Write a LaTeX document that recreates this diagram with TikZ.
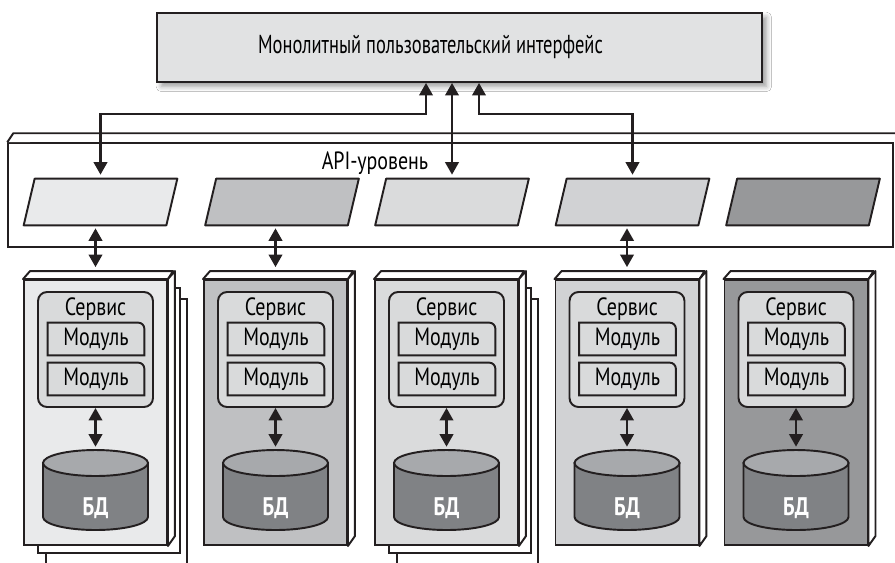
\documentclass[tikz,border=0pt]{standalone}
\usepackage{fontspec}
\setmainfont{PT Sans}[FakeStretch=0.8]
\newfontfamily\uifont{PT Sans}[FakeStretch=0.71]
\usepackage{tikz}
\usetikzlibrary{arrows.meta,positioning,shadows.blur}
\definecolor{ink}     {HTML}{231F20}
\definecolor{uigray}  {HTML}{E1E2E3}
\definecolor{svcgray} {HTML}{D9DADB}
\definecolor{dbtop}   {HTML}{A7A9AC}
\definecolor{dbbody}  {HTML}{808285}
\definecolor{greyA}   {HTML}{E9EAEB}
\definecolor{greyB}   {HTML}{BFC0C2}
\definecolor{greyC}   {HTML}{DADBDC}
\definecolor{greyD}   {HTML}{D1D2D4}
\definecolor{greyE}   {HTML}{97989A}
\tikzset{
  uibox/.style   ={draw=ink, fill=uigray, line width=1.1pt,
                   minimum width=12.1cm, minimum height=1.38cm,
                   blur shadow={shadow xshift=2.5pt, shadow yshift=-2.5pt,
                                shadow blur radius=3pt, shadow opacity=40}},
  uitext/.style  ={font=\uifont\fontsize{14.8}{18}\selectfont, inner sep=0pt},
  apibox/.style  ={draw=ink, fill=white, line width=0.9pt,
                   minimum width=17.7cm, minimum height=2.08cm, inner sep=0pt},
  parsize/.style ={minimum width=2.84cm, minimum height=0.92cm, inner sep=0pt},
  parline/.style ={draw=ink, line width=1.1pt, line join=round},
  colbox/.style  ={draw=ink, line width=1.1pt, minimum width=2.86cm,
                   minimum height=5.3cm, inner sep=0pt},
  face/.style    ={draw=ink, fill=white, line width=1.1pt, line join=round},
  stackbox/.style={draw=ink, fill=white, line width=1.1pt},
  svcbox/.style  ={draw=ink, fill=svcgray, line width=1.1pt, rounded corners=0.18cm,
                   minimum width=2.3cm, minimum height=2.3cm, inner sep=0pt},
  modsize/.style ={minimum width=1.92cm, minimum height=0.64cm, inner sep=0pt},
  modline/.style ={draw=ink, fill=svcgray, line width=1.1pt},
  lbl/.style     ={font=\fontsize{14.2}{16}\selectfont, inner sep=0pt},
  dbsize/.style  ={minimum width=2.1cm, minimum height=1.6cm, inner sep=0pt},
  dbline/.style  ={draw=ink, line width=1.1pt},
  dbtext/.style  ={text=white, font=\fontsize{14.5}{16}\selectfont\bfseries, inner sep=0pt},
  biarr/.style   ={{Triangle[length=0.25cm,width=0.27cm]}-{Triangle[length=0.25cm,width=0.27cm]},
                   line width=1.3pt, draw=ink},
}
% one API panel: name, centre x, shade
\newcommand{\apipanel}[3]{%
  \node[parsize] (#1) at (#2,202) {};
  \draw[parline, fill=#3] ([xshift=-0.11cm]#1.south west) -- ([xshift=-0.11cm]#1.south east)
    -- ([xshift=0.11cm]#1.north east) -- ([xshift=0.11cm]#1.north west) -- cycle;
}
% one service column: name, centre x, shade
\newcommand{\servicecol}[3]{%
  \node[colbox, fill=#3] (#1) at (#2,412.5) {};
  \draw[face] (#1.north west) -- ++(7,-8) -- ++(143,0) -- (#1.north east) -- cycle;
  \draw[face] (#1.north east) -- ++(7,-8) -- ++(0,265) -- (#1.south east) -- cycle;
  \node[svcbox] (#1svc) at (#2,349.5) {};
  \node[lbl] (#1name) at (#2,309) {Сервис};
  \node[modsize] (#1modA) at (#2+0.5,339) {};
  \draw[modline] (#1modA.south west) -- (#1modA.north west) [rounded corners=0.12cm]
    -- (#1modA.north east) [sharp corners] -- (#1modA.south east) -- cycle;
  \node[lbl] (#1modAtxt) at (#1modA) {Модуль};
  \node[modsize] (#1modB) at (#2+0.5,379) {};
  \draw[modline] (#1modB.south west) -- (#1modB.north west) [rounded corners=0.12cm]
    -- (#1modB.north east) [sharp corners] -- (#1modB.south east) -- cycle;
  \node[lbl] (#1modBtxt) at (#1modB) {Модуль};
  % database drum
  \node[dbsize] (#1db) at (#2,490) {};
  \draw[dbline, fill=dbbody] (#2-52.5,463) -- (#2-52.5,517)
    arc[start angle=180, end angle=0, x radius=52.5, y radius=13] -- (#2+52.5,463) -- cycle;
  \draw[dbline, fill=dbtop] (#2,463) ellipse [x radius=52.5, y radius=13];
  \node[dbtext] (#1dbtxt) at (#2,508) {БД};
  \draw[biarr, shorten >=0.06cm] (#1svc.south) -- (#1db.north);
}

\begin{document}
\begin{tikzpicture}[x=0.02cm,y=-0.02cm]
  \useasboundingbox (0,0) rectangle (895,562);
  \clip (0,0) rectangle (895,562);
  \fill[white] (0,0) rectangle (895,562);

  \node[uibox] (ui) at (459.5,47.5) {};
  \node[uitext] (uitxt) at (430.5,47) {Монолитный пользовательский интерфейс};

  % API layer
  \node[apibox] (api) at (450.5,195) {};
  \draw[face] (api.north west) -- ++(6,-9) -- ++(900,0);
  \node[lbl] (apilbl) at (375,163) {API-уровень};
  \apipanel{p1}{100.5}{greyA}
  \apipanel{p2}{282}{greyB}
  \apipanel{p3}{452}{greyC}
  \apipanel{p4}{632.5}{greyD}
  \apipanel{p5}{803}{greyE}

  % stacked copies behind
  \draw[stackbox] (46,299) rectangle (187,570);
  \draw[stackbox] (38,288) rectangle (180,553);
  \draw[stackbox] (397,299) rectangle (538,570);
  \draw[stackbox] (389,288) rectangle (531,553);

  \servicecol{c1}{95.5}{greyA}
  \servicecol{c2}{275.5}{greyB}
  \servicecol{c3}{446.5}{greyC}
  \servicecol{c4}{627}{greyD}
  \servicecol{c5}{796}{greyE}

  % UI to API
  \draw[biarr, shorten >=0.08cm] ([xshift=-0.67cm]ui.south) -- ++(0,31) -| (p1.north);
  \draw[biarr, shorten >=0.08cm] (p3.north |- ui.south) -- (p3.north);
  \draw[biarr, shorten >=0.08cm] ([xshift=0.39cm]ui.south) -- ++(0,31) -| (p4.north);

  % API to services
  \draw[biarr, shorten <=0.06cm, shorten >=0.24cm] (p1.south -| c1.north) -- (c1.north);
  \draw[biarr, shorten <=0.06cm, shorten >=0.24cm] (p2.south -| c2.north) -- (c2.north);
  \draw[biarr, shorten <=0.06cm, shorten >=0.24cm] (p4.south -| c4.north) -- (c4.north);
\end{tikzpicture}
\end{document}
